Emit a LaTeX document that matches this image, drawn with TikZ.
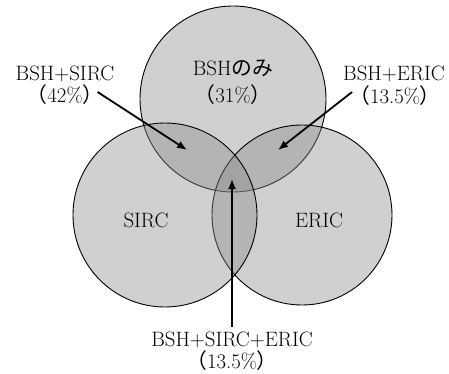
\documentclass[tikz,border=0pt]{standalone}
\usepackage{fontspec}
\newfontfamily\jpfont{Noto Sans CJK JP}
\usetikzlibrary{arrows.meta}
\newcommand{\lpar}{{\jpfont （}}
\newcommand{\rpar}{{\jpfont ）}}
\tikzset{
	set/.style = { draw = black, line width = 0.9pt, fill = black!46, fill opacity = 0.4 },
	lbl/.style = { font = \fontsize{20.8}{23}\selectfont, inner sep = 2pt },
	pointer/.style = { -{Latex[length=10pt,width=8pt]}, line width = 1.8pt }
}

\begin{document}
\begin{tikzpicture}[ x = 1pt, y = -1pt ]
	\useasboundingbox (0,0) rectangle (449,374);
	\draw [ set ] (233,99) circle (93pt);
	\draw [ set ] (302,215) circle (90pt);
	\draw [ set ] (165,215) circle (92pt);
	\node [ lbl ] (bs) at (65,74) {BSH+SIRC};
	\node [ lbl ] (bsp) at (65,95) {\lpar 42\%\rpar};
	\node [ lbl ] (b) at (233,68) {BSH{\jpfont のみ}};
	\node [ lbl ] (bp) at (233,95) {\lpar 31\%\rpar};
	\node [ lbl ] (be) at (394,74) {BSH+ERIC};
	\node [ lbl ] (bep) at (395,96) {\lpar 13.5\%\rpar};
	\node [ lbl ] (s) at (146,220) {SIRC};
	\node [ lbl ] (e) at (319,220) {ERIC};
	\node [ lbl ] (bse) at (232,340) {BSH+SIRC+ERIC};
	\node [ lbl ] (bsep) at (232,361) {\lpar 13.5\%\rpar};
	\coordinate (bs tip) at (187,150);
	\coordinate (be tip) at (278,150);
	\coordinate (bse tip) at (232,179);
	\draw [ pointer ] (bsp.east) ++(-8,-3) to (bs tip);
	\draw [ pointer ] (bep.west) ++(5,-4) to (be tip);
	\draw [ pointer ] (bse.north) ++(0,-3) to (bse tip);
\end{tikzpicture}
\end{document}
